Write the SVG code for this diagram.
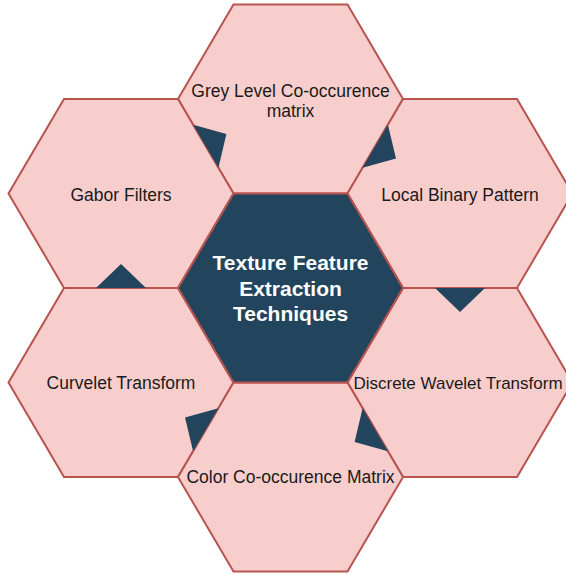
<svg xmlns="http://www.w3.org/2000/svg" xmlns:xlink="http://www.w3.org/1999/xlink" width="566" height="575" viewBox="0 0 566 575">
  <style>
    .cell { fill: #F8CECC; stroke: #B85450; stroke-width: 2; stroke-linejoin: miter; }
    .core { fill: #23445D; stroke: #B85450; stroke-width: 2; }
    .label { font-family: "Liberation Sans", Arial, sans-serif; font-size: 17.5px; fill: #1A1A1A; text-anchor: middle; }
    .title { font-family: "Liberation Sans", Arial, sans-serif; font-size: 21px; font-weight: bold; fill: #FFFFFF; text-anchor: middle; }
    .flow { fill: #23445D; stroke: none; }
  </style>
  <defs>
    <!-- flat-topped hexagon centred on the origin -->
    <polygon id="hex" points="-112.5,0 -57,-94.5 57,-94.5 112.5,0 57,94.5 -57,94.5"/>
  </defs>

  <rect width="566" height="575" fill="#FFFFFF"/>

  <g id="node-glcm" transform="translate(290.5,99)">
    <use xlink:href="#hex" class="cell"/>
    <text class="label" x="0" y="-2">Grey Level Co-occurence</text>
    <text class="label" x="0" y="18">matrix</text>
  </g>

  <g id="node-gabor" transform="translate(121,193.5)">
    <use xlink:href="#hex" class="cell"/>
    <text class="label" x="0" y="7.5">Gabor Filters</text>
  </g>

  <g id="node-lbp" transform="translate(460,193.5)">
    <use xlink:href="#hex" class="cell"/>
    <text class="label" x="0" y="7.5">Local Binary Pattern</text>
  </g>

  <g id="node-curvelet" transform="translate(121,382.5)">
    <use xlink:href="#hex" class="cell"/>
    <text class="label" x="0" y="6.5">Curvelet Transform</text>
  </g>

  <g id="node-dwt" transform="translate(460,382.5)">
    <use xlink:href="#hex" class="cell"/>
    <!-- wide label: narrowed a touch so it stays inside the canvas -->
    <text class="label" x="-2" y="6.5" style="font-size:17px">Discrete Wavelet Transform</text>
  </g>

  <g id="node-ccm" transform="translate(290.5,477)">
    <use xlink:href="#hex" class="cell"/>
    <text class="label" x="0" y="6">Color Co-occurence Matrix</text>
  </g>

  <g id="node-core" transform="translate(290.5,288)">
    <use xlink:href="#hex" class="core"/>
    <text class="title" x="0" y="-18">Texture Feature</text>
    <text class="title" x="0" y="8">Extraction</text>
    <text class="title" x="0" y="33">Techniques</text>
  </g>

  <!-- clockwise flow markers sitting on the shared edges of the outer ring -->
  <g id="connectors">
    <polygon class="flow" points="193.1,124.7 218.4,167.8 226.4,134.1"/>
    <polygon class="flow" points="387.9,124.7 362.6,167.8 396,158.4"/>
    <polygon class="flow" points="435,288 485,288 460,312"/>
    <polygon class="flow" points="362.6,408.2 387.9,451.3 354.6,441.9"/>
    <polygon class="flow" points="218.4,408.2 193.1,451.3 185,417.6"/>
    <polygon class="flow" points="96,288 146,288 121,264"/>
  </g>
</svg>
